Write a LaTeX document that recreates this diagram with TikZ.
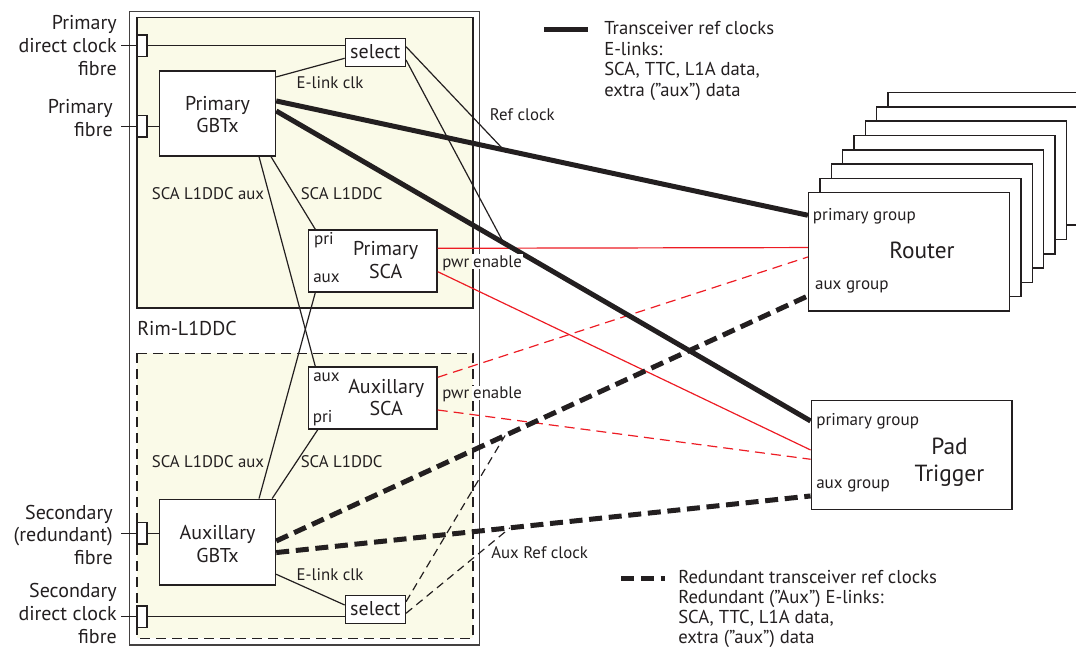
\documentclass[tikz,border=0pt]{standalone}
\usepackage{fontspec}
\setmainfont{PT Sans}
\usetikzlibrary{calc,fit}
\definecolor{ink}{RGB}{35,31,32}
\definecolor{pale}{RGB}{250,250,232}
\definecolor{redl}{RGB}{237,28,36}
\newcommand\fmain{\fontsize{15}{17}\selectfont}
\newcommand\fmid{\fontsize{12.6}{14}\selectfont}
\newcommand\fbigx{\fontsize{17.5}{20}\selectfont}
\newcommand\fsml{\fontsize{12.8}{14}\selectfont}
\newcommand\flgd{\fontsize{14}{15.3}\selectfont}
\newcommand\flgdb{\fontsize{14}{15}\selectfont}
\begin{document}
\begin{tikzpicture}[x=0.75pt,y=-0.75pt,
  every node/.style={text=ink},
  blk/.style={draw=ink, line width=1.1pt, fill=white, inner sep=0pt},
  conn/.style={draw=ink, line width=1.1pt, fill=white, inner sep=0pt},
  thinln/.style={draw=ink, line width=0.9pt},
  thickln/.style={draw=ink, line width=3.75pt},
  thickdash/.style={draw=ink, line width=3.75pt, dash pattern=on 9.75pt off 5pt},
  thindash/.style={draw=ink, line width=0.9pt, dash pattern=on 6pt off 4pt},
  redln/.style={draw=redl, line width=0.9pt},
  reddash/.style={draw=redl, line width=0.9pt, dash pattern=on 7.5pt off 4.5pt},
  lbl/.style={font=\fmain, inner sep=0pt},
  mlbl/.style={font=\fmid, inner sep=0pt},
  slbl/.style={font=\fsml, inner sep=0pt}
]
\path[use as bounding box] (0,0) rectangle (1076,648);
\clip (0,0) rectangle (1076,648);

% containers
\draw[draw=ink!85, line width=1.1pt] (129.5,11.7) rectangle (479.3,645);
\draw[draw=ink, line width=1.1pt, fill=pale] (137,17.7) rectangle (472.8,308);
\draw[draw=ink, line width=1.1pt, fill=pale, dash pattern=on 7.5pt off 4.5pt] (137,353.3) rectangle (472.8,638.3);
\node[lbl, anchor=west] (rim) at (137,328.3) {Rim-L1DDC};

% router stack
\foreach \k in {7,6,...,1}{
  \draw[draw=ink, line width=1.1pt, fill=white] (808.6+11.33*\k,192.7-14.3*\k) rectangle ++(201,118.3);
}

% nodes
\node[blk, fit={(159.5,71) (275.5,156)}] (pg) {};
\node[lbl, align=center] (pgt) at (217.5,114.7) {Primary\\GBTx};
\node[blk, fit={(345.4,38.3) (405.3,66.3)}] (s1) {};
\node[lbl] (s1t) at (375.3,51.5) {select};
\node[blk, fit={(308.6,230) (437,292)}] (ps) {};
\node[lbl, align=center] (pst) at (385.7,260) {Primary\\SCA};
\node[slbl] (pspri) at (324,240) {pri};
\node[slbl] (psaux) at (326.5,278.3) {aux};

\node[blk, fit={(308.6,367) (437,429)}] (as) {};
\node[lbl, align=center] (ast) at (386.2,397.5) {Auxillary\\SCA};
\node[slbl] (asaux) at (326.5,377.3) {aux};
\node[slbl] (aspri) at (322.7,417.7) {pri};
\node[blk, fit={(159.5,499.3) (275.5,585)}] (ag) {};
\node[lbl, align=center] (agt) at (217.5,544) {Auxillary\\GBTx};
\node[blk, fit={(345.4,595.3) (405.3,623.3)}] (s2) {};
\node[lbl] (s2t) at (375.3,608.5) {select};

\node[conn, fit={(137,35) (147,56.7)}] (c1) {};
\node[conn, fit={(137,115.7) (147,137)}] (c2) {};
\node[conn, fit={(137,522.3) (147,544)}] (c3) {};
\node[conn, fit={(137,606) (147,627.3)}] (c4) {};
\coordinate (c1l) at ($(c1.west)+(-15,0)$);
\coordinate (c2l) at ($(c2.west)+(-15,0)$);
\coordinate (c3l) at ($(c3.west)+(-15,0)$);
\coordinate (c4l) at ($(c4.west)+(-15,0)$);

\node[blk, fit={(808.6,192.7) (1009.5,311)}] (rt) {};
\node[font=\fbigx, inner sep=0pt] (rtt) at (922,250) {Router};
\node[slbl, anchor=west] (rtp) at (812.7,216) {primary group};
\node[slbl, anchor=west] (rta) at (814.8,286.7) {aux group};
\node[blk, fit={(811.3,400.3) (1011.9,509.7)}] (pt) {};
\node[font=\fbigx, inner sep=0pt, align=center] (ptt) at (949.5,462) {Pad\\Trigger};
\node[slbl, anchor=west] (ptp) at (816,421) {primary group};
\node[slbl, anchor=west] (pta) at (816,485.7) {aux group};

% fibre stubs
\draw[thinln] (c1l) -- (c1.west);
\draw[thinln] (c2l) -- (c2.west);
\draw[thinln] (c3l) -- (c3.west);
\draw[thinln] (c4l) -- (c4.west);
\draw[thinln] (c1.east) -- (c1.east -| s1.west);
\draw[thinln] (c2.east) -- (c2.east -| pg.west);
\draw[thinln] (c3.east) -- (c3.east -| ag.west);
\draw[thinln] (c4.east) -- (c4.east -| s2.west);

% internal thin links
\draw[thinln] ($(pg.north east)+(0,6.7)$) -- ($(s1.west)+(0,6)$);
\draw[thinln] ($(pg.south east)+(-5.2,0)$) -- ($(ps.north west)+(7.4,0)$);
\draw[thinln] ($(pg.south east)+(-17.2,0)$) -- ($(as.north west)+(7.4,0)$);
\draw[thinln] ($(ag.north east)+(-17.2,0)$) -- ($(ps.south west)+(7.4,0)$);
\draw[thinln] ($(ag.north east)+(-4.1,0)$) -- ($(as.south west)+(9.9,0)$);
\draw[thinln] ($(ag.north east)+(0,75.7)$) -- ($(s2.west)+(0,-4.3)$);

% thick links
\coordinate (t1a) at ($(pg.north east)+(0,30.7)$);
\coordinate (t1b) at ($(rt.north west)+(0,23.3)$);
\coordinate (t2a) at ($(pg.north east)+(0,40.7)$);
\coordinate (t2b) at ($(pt.north west)+(0,21.4)$);
\coordinate (d1a) at ($(ag.north east)+(0,42.4)$);
\coordinate (d1b) at ($(rt.north west)+(0,104)$);
\coordinate (d2a) at ($(ag.north east)+(0,54)$);
\coordinate (d2b) at ($(pt.north west)+(0,96.4)$);
\coordinate (j1) at ($(t1a)!0.428!(t1b)$);
\coordinate (j2) at ($(t2a)!0.4255!(t2b)$);
\coordinate (j3) at ($(d1a)!0.4305!(d1b)$);
\coordinate (j4) at ($(d2a)!0.4377!(d2b)$);

% red links
\draw[redln] ($(ps.east)+(0,-12.7)$) -- ($(rt.north west)+(0,55.6)$);
\draw[redln] ($(ps.east)+(0,10.7)$) -- ($(pt.north west)+(0,50.4)$);
\draw[reddash] ($(as.east)+(0,-20.7)$) -- ($(rt.north west)+(0,65)$);
\draw[reddash] ($(as.east)+(0,12)$) -- ($(pt.north west)+(0,59.7)$);

\draw[thickln] (t1a) -- (t1b);
\draw[thickln] (t2a) -- (t2b);
\draw[thickdash] (d1a) -- (d1b);
\draw[thickdash] (d2a) -- (d2b);

% ref clocks
\draw[thinln] ($(s1.east)+(0,-5.6)$) -- (j1);
\draw[thinln] ($(s1.east)+(0,7.7)$) -- (j2);
\draw[thindash] ($(s2.east)+(0,-7.6)$) -- (j3);
\draw[thindash] ($(s2.east)+(0,4)$) -- (j4);

% labels
\node[lbl, anchor=east, align=right] (l1) at (117,45.7) {Primary\\direct clock\\fibre};
\node[lbl, anchor=east, align=right] (l2) at (113,118.3) {Primary\\fibre};
\node[lbl, anchor=east, align=right] (l3) at (113,535) {Secondary\\(redundant)\\fibre};
\node[lbl, anchor=east, align=right] (l4) at (117,613.5) {Secondary\\direct clock\\fibre};

\node[mlbl] (e1) at (330,83) {E-link clk};
\node[mlbl] (e2) at (330,575) {E-link clk};
\node[mlbl] (sa1) at (208,193.3) {SCA L1DDC aux};
\node[mlbl] (sb1) at (341.7,193.3) {SCA L1DDC};
\node[mlbl] (sa2) at (208,461.7) {SCA L1DDC aux};
\node[mlbl] (sb2) at (341.7,461.7) {SCA L1DDC};
\node[mlbl, anchor=west] (pw1) at (442,262.7) {pwr\kern2pt{\setlength{\fboxsep}{1pt}\colorbox{white}{enable}}};
\node[mlbl, anchor=west] (pw2) at (442,394) {pwr\kern2pt{\setlength{\fboxsep}{1pt}\colorbox{white}{enable}}};
\node[mlbl, anchor=west] (rc1) at (489.7,115) {Ref clock};
\node[mlbl, anchor=west] (rc2) at (491,553) {Aux Ref clock};

% legends
\coordinate (lg1a) at (544,29.3);
\coordinate (lg1b) at (587.5,29.3);
\draw[thickln] (lg1a) -- (lg1b);
\node[font=\flgd, inner sep=0pt, anchor=north west, align=left] (lg1t) at (604,21.5) {Transceiver ref clocks\\E-links:\\SCA, TTC, L1A data,\\extra (”aux”) data};
\coordinate (lg2a) at (621.2,578.3);
\coordinate (lg2b) at (665.1,578.3);
\draw[thickdash] (lg2a) -- (lg2b);
\node[font=\flgdb, inner sep=0pt, anchor=north west, align=left] (lg2t) at (678,570.5) {Redundant transceiver ref clocks\\Redundant (”Aux”) E-links:\\SCA, TTC, L1A data,\\extra (”aux”) data};
\end{tikzpicture}
\end{document}
